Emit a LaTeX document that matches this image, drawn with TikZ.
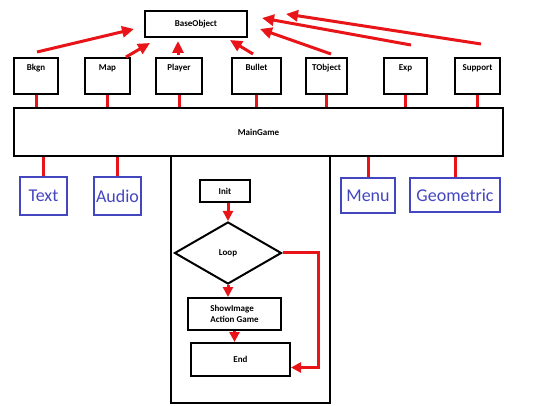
\documentclass[tikz,border=0pt]{standalone}
\usepackage{fontspec}
\setmainfont{Carlito}
\usetikzlibrary{arrows.meta,shapes.geometric}
\definecolor{linered}{RGB}{232,20,24}
\definecolor{boxblue}{RGB}{68,70,192}

\begin{document}
\begin{tikzpicture}[x=1pt,y=-1pt,
    objbox/.style={draw, line width=2pt, minimum height=36pt, inner sep=2pt,
        text height=10pt, text depth=20pt, font=\fontsize{9}{10}\selectfont\bfseries},
    flowbox/.style={draw, line width=2pt, inner sep=2pt, font=\fontsize{9}{11}\selectfont\bfseries},
    libbox/.style={draw=boxblue, text=boxblue, line width=2.5pt, inner sep=1pt,
        font=\fontsize{18}{20}\selectfont},
    redline/.style={linered, line width=3pt},
    redarrow/.style={redline, -{Triangle[length=12pt,width=11pt]}},
    flowarrow/.style={redline, -{Triangle[length=10pt,width=10pt]}}]
    \useasboundingbox (0,0) rectangle (541,406);
    \fill[white] (0,0) rectangle (541,406);

    % frame of the game loop
    \node[draw, line width=2.5pt, minimum width=159pt, minimum height=247pt] (frame) at (250.5,279.5) {};
    \node[draw, fill=white, line width=2.5pt, minimum width=489pt, minimum height=48pt,
        font=\fontsize{9}{10}\selectfont\bfseries] (main) at (258.5,132) {MainGame};
    \node[flowbox, minimum width=102pt, minimum height=26pt] (base) at (196,24) {BaseObject};

    % game objects
    \foreach \nm/\x/\w/\txt in {bkgn/36/44/Bkgn, map/107.5/45/Map, player/179/46/Player,
        bullet/256.5/49/Bullet, tobject/326.5/41/TObject, exp/405.5/43/Exp, support/477.5/45/Support} {
        \node[objbox, minimum width=\w pt] (\nm) at (\x,76) {\txt};
        \draw[redline] (\nm.south) -- (\nm.south |- main.north);
    }

    % inheritance arrows
    \foreach \nm/\tx/\ty/\hx/\hy in {bkgn/1/-5/-62/5, map/18.5/0/-46/19, player/-1/-2/-18/17,
        bullet/-3.5/-3/34/16, tobject/4.5/-3/64/5, exp/5.5/-12/66/-6, support/3.5/-13/90/-10}
        \draw[redarrow] ([shift={(\tx,\ty)}]\nm.north) -- ([shift={(\hx,\hy)}]base.center);

    % libraries
    \foreach \nm/\x/\y/\w/\h/\txt in {text/43.5/196/47/38/Text, audio/117.5/196/47/38/Audio,
        menu/368/195.5/54/35/Menu, geometric/455/195/90/34/Geometric} {
        \node[libbox, minimum width=\w pt, minimum height=\h pt] (\nm) at (\x,\y) {\txt};
        \draw[redline] (\nm.north) -- (\nm.north |- main.south);
    }

    % game loop
    \node[flowbox, minimum width=50pt, minimum height=22pt] (init) at (225,191) {Init};
    \node[draw, diamond, line width=2pt, aspect=1.7, minimum width=107pt, minimum height=62pt,
        inner sep=0pt, font=\fontsize{9}{10}\selectfont\bfseries] (loop) at (228,253) {Loop};
    \node[flowbox, minimum width=93pt, minimum height=32pt, align=left] (show) at (234.5,314)
        {ShowImage\\Action Game};
    \node[flowbox, minimum width=99pt, minimum height=33pt] (end) at (240.5,359.5) {End};

    \draw[flowarrow] (loop.north |- init.south) -- (loop.north);
    \draw[flowarrow] (loop.south) -- (loop.south |- show.north);
    \draw[flowarrow] (show.south) -- (show.south |- end.north);
    \draw[flowarrow] (loop.east) -- ([xshift=36pt]loop.east) |- ([yshift=-8pt]end.east);
\end{tikzpicture}
\end{document}
